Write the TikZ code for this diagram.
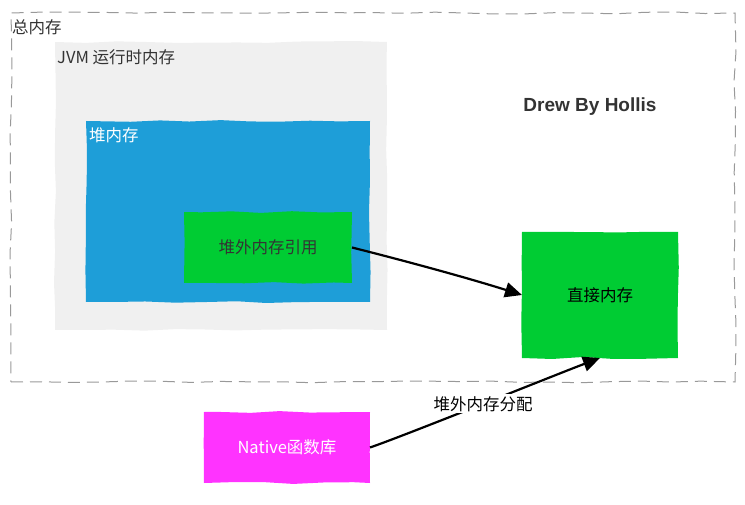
\documentclass[tikz,border=0pt]{standalone}
\usepackage{fontspec}
\setmainfont{Noto Sans CJK SC}
\newfontfamily\signfont{Liberation Sans}
\usetikzlibrary{arrows.meta,decorations.pathmorphing}
\definecolor{jvmgray}{HTML}{F0F0F0}
\definecolor{heapblue}{HTML}{1E9ED8}
\definecolor{memgreen}{HTML}{00CC33}
\definecolor{nativepink}{HTML}{FF33FF}
\definecolor{txtgray}{HTML}{333333}
\tikzset{
  rough/.style={decorate, decoration={random steps, segment length=30pt, amplitude=1pt}},
  area/.style={rough, anchor=north west, inner sep=0pt, outer sep=0pt},
  tag/.style={anchor=west, inner sep=0pt, font=\fontsize{16.5}{18}\selectfont},
  memtext/.style={font=\fontsize{16.5}{18}\selectfont},
  conn/.style={line width=2.2pt, -{Triangle[length=17pt,width=15pt]}},
}

\begin{document}
\begin{tikzpicture}[x=1pt,y=-1pt]
\pgfmathsetseed{7}
\useasboundingbox (0,0) rectangle (745,505);
\node[area, draw=gray!80, line width=1pt, dash pattern=on 12pt off 7pt, minimum width=724pt, minimum height=369pt] (total) at (11,13) {};
\node[tag, text=txtgray] (totallbl) at (12,27) {总内存};
\node[area, fill=jvmgray, minimum width=332pt, minimum height=288pt] (jvm) at (55,42) {};
\node[tag, text=txtgray] (jvmlbl) at (57,57) {JVM 运行时内存};
\node[area, fill=heapblue, minimum width=284pt, minimum height=181pt] (heap) at (86,121) {};
\node[tag, text=white] (heaplbl) at (89,135) {堆内存};
\node[area, fill=memgreen, minimum width=168pt, minimum height=71pt, memtext, text=txtgray] (ref) at (184,212) {堆外内存引用};
\node[area, fill=memgreen, minimum width=156pt, minimum height=126pt, memtext] (direct) at (522,232) {直接内存};
\node[area, fill=nativepink, minimum width=166pt, minimum height=71pt, memtext, text=white] (native) at (204,412) {Native函数库};
\node[font=\signfont\bfseries\fontsize{19}{21}\selectfont, text=txtgray] (sign) at (590,107) {Drew By Hollis};

\draw[conn] (ref.east) .. controls +(20,5) and +(-70,-22) .. (direct.west);
\draw[conn] (native.east) .. controls +(35,-12) and +(-40,15) .. (direct.south)
  node[pos=0.5, fill=white, inner sep=2pt, memtext] (alloc) {堆外内存分配};
\end{tikzpicture}
\end{document}
